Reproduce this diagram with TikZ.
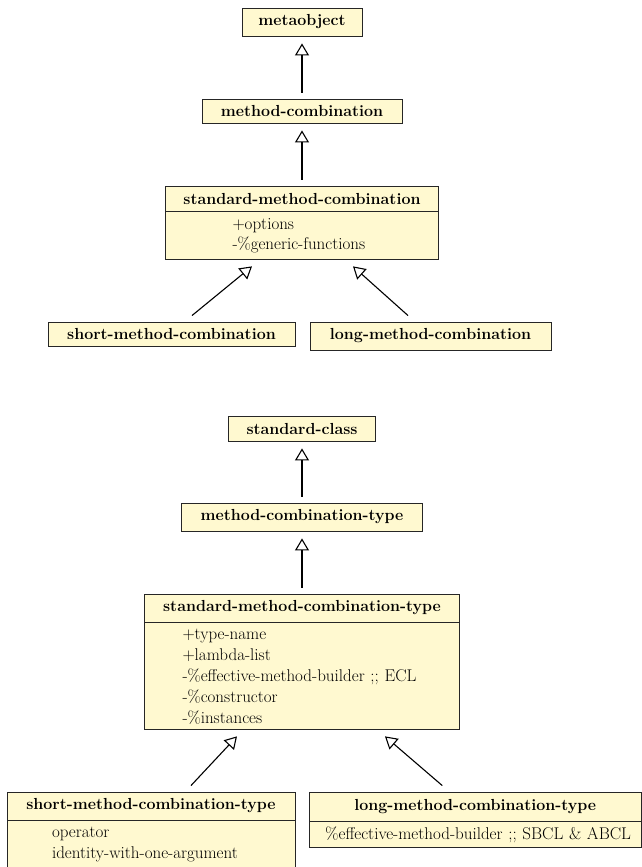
\documentclass[tikz,border=0pt]{standalone}
\usetikzlibrary{positioning, arrows.meta, calc}
\definecolor{classfill}{RGB}{255,249,208}
\begin{document}
\begin{tikzpicture}[x=1pt, y=-1pt,
    font=\fontsize{17}{21}\selectfont,
    classbox/.style={draw=black!85, line width=0.9pt, fill=classfill, inner sep=0pt},
    classhead/.style={classbox, font=\fontsize{16}{21}\selectfont\bfseries},
    classbody/.style={classbox, align=left},
    inherit/.style={line width=1.1pt, -{Triangle[open, length=12pt, width=14pt]}},
    gap/.style={shorten >=7pt, shorten <=6pt}]
\useasboundingbox (0,0) rectangle (642,867);

\node[classhead, minimum width=120pt, minimum height=28pt] (meta) at (302,22) {metaobject};
\node[classhead, minimum width=200pt, minimum height=24pt] (mc) at (302,111) {method-combination};
\node[classhead, minimum width=273pt, minimum height=25pt] (smc) at (302,198.5) {standard-method-combination};
\node[classbody, font=\fontsize{17}{20}\selectfont, minimum height=48pt, text width=139pt, inner xsep=67pt, below=0pt of smc] (smcbody)
    {+options\\-\%generic-functions};
\node[classhead, minimum width=247pt, minimum height=24pt] (smcs) at (171.5,334) {short-method-combination};
\node[classhead, minimum width=241pt, minimum height=28pt] (smcl) at (430.5,336) {long-method-combination};

\node[classhead, minimum width=147pt, minimum height=25pt] (stdclass) at (302,428.5) {standard-class};
\node[classhead, minimum width=241pt, minimum height=28pt] (mct) at (302,517) {method-combination-type};
\node[classhead, minimum width=315pt, minimum height=28pt] (smct) at (302,608) {standard-method-combination-type};
\node[classbody, minimum height=107pt, text width=239pt, inner xsep=38pt, below=0pt of smct] (smctbody)
    {+type-name\\+lambda-list\\-\%effective-method-builder ;; ECL\\-\%constructor\\-\%instances};
\node[classhead, minimum width=288pt, minimum height=28pt] (smcts) at (151,806) {short-method-combination-type};
\node[classbody, minimum height=48pt, text width=198pt, inner xsep=45pt, below=0pt of smcts] (smctsbody)
    {operator\\identity-with-one-argument};
\node[classhead, minimum width=332.5pt, minimum height=29pt] (smctl) at (475.25,806.5) {long-method-combination-type};
\node[classbody, align=center, minimum height=26pt, text width=314.5pt, inner xsep=9pt, below=0pt of smctl] (smctlbody)
    {\hspace*{6pt}\%effective-method-builder ;; SBCL \& ABCL};

\draw[inherit, gap] (mc) -- (meta);
\draw[inherit, gap] (smc) -- (mc);
\draw[inherit] ($(smcs.north)+(20.5,-6)$) -- ($(smcbody.south)+(-50,6)$);
\draw[inherit] ($(smcl.north)+(-22.5,-6)$) -- ($(smcbody.south)+(51,6)$);

\draw[inherit, gap] (mct) -- (stdclass);
\draw[inherit, gap] (smct) -- (mct);
\draw[inherit] ($(smcts.north)+(40,-6)$) -- ($(smctbody.south)+(-65,6)$);
\draw[inherit] ($(smctl.north)+(-33,-6)$) -- ($(smctbody.south)+(83,6)$);
\end{tikzpicture}
\end{document}
